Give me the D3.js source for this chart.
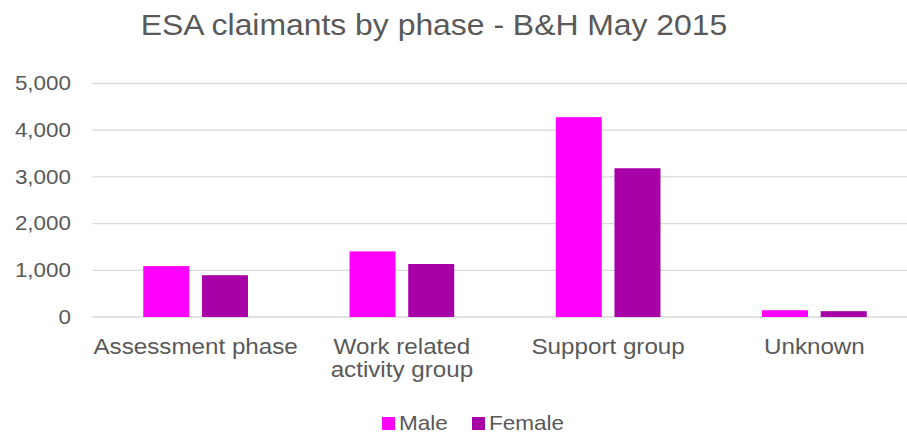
<!DOCTYPE html>
<html>
<head>
<meta charset="utf-8">
<script src="https://cdn.jsdelivr.net/npm/d3@7"></script>
<style>
  html, body { margin: 0; padding: 0; background: #fff; }
  svg { display: block; font-family: "Liberation Sans", Arial, sans-serif; }
</style>
</head>
<body>
<svg id="chart" width="907" height="434"></svg>
<script>
// ESA claimants in B&H, May 2015, split by phase and sex
const categories = [["Assessment phase"], ["Work related", "activity group"], ["Support group"], ["Unknown"]];
const seriesNames = ["Male", "Female"];
const maleValues = [1090, 1405, 4280, 145];
const femaleValues = [895, 1135, 3185, 125];
const yTicks = [0, 1000, 2000, 3000, 4000, 5000];
const colors = ["#FF00FF", "#A600A6"];

const svg = d3.select("#chart");
const textColor = "#595959";
const stretch = 1.1; // horizontal widening of all text

const plot = { left: 92.5, right: 917.5, top: 83.5, bottom: 317 };

const catKeys = categories.map(c => c.join(" "));
const x0 = d3.scaleBand().domain(catKeys).range([plot.left, plot.right]).padding(0);
const x1 = d3.scaleBand().domain(seriesNames).range([0, x0.bandwidth()])
  .paddingInner(0.2164).paddingOuter(0.865);
const y = d3.scaleLinear().domain([0, 5000]).range([plot.bottom, plot.top]);

// Gridlines
svg.append("g")
  .selectAll("line")
  .data(yTicks)
  .join("line")
  .attr("x1", plot.left)
  .attr("x2", plot.right)
  .attr("y1", d => y(d))
  .attr("y2", d => y(d))
  .attr("stroke", "#D9D9D9")
  .attr("stroke-width", 1.3);

// Y axis labels
const yAxis = d3.axisLeft(y).tickValues(yTicks).tickFormat(d3.format(",")).tickSize(0).tickPadding(0);
const yg = svg.append("g").attr("transform", "translate(71,0)").call(yAxis);
yg.select(".domain").remove();
yg.selectAll(".tick text")
  .attr("x", 0)
  .attr("transform", `scale(${stretch + 0.05},1)`)
  .attr("fill", textColor)
  .attr("font-size", 19.5)
  .attr("font-family", "Liberation Sans, Arial, sans-serif");

// Bars
const rows = catKeys.map((k, i) => ({ key: k, values: [maleValues[i], femaleValues[i]] }));
const groups = svg.append("g")
  .selectAll("g")
  .data(rows)
  .join("g")
  .attr("transform", d => `translate(${x0(d.key)},0)`);

groups.selectAll("rect")
  .data(d => d.values.map((v, j) => ({ name: seriesNames[j], value: v, color: colors[j] })))
  .join("rect")
  .attr("x", d => x1(d.name))
  .attr("width", x1.bandwidth())
  .attr("y", d => y(d.value))
  .attr("height", d => y(0) - y(d.value))
  .attr("fill", d => d.color);

// Category labels
const catLabels = svg.append("g")
  .selectAll("text")
  .data(categories)
  .join("text")
  .attr("transform", (d, i) => `translate(${x0(catKeys[i]) + x0.bandwidth() / 2},353.5) scale(${stretch},1)`)
  .attr("text-anchor", "middle")
  .attr("fill", textColor)
  .attr("font-size", 22);
catLabels.selectAll("tspan")
  .data(d => d)
  .join("tspan")
  .attr("x", 0)
  .attr("dy", (d, i) => i === 0 ? 0 : 23.5)
  .text(d => d);

// Title
svg.append("text")
  .attr("transform", `translate(434,35) scale(${stretch},1)`)
  .attr("text-anchor", "middle")
  .attr("fill", textColor)
  .attr("font-size", 29)
  .text("ESA claimants by phase - B&H May 2015");

// Legend
const legendItems = [{ name: "Male", x: 382 }, { name: "Female", x: 472 }];
const legend = svg.append("g")
  .selectAll("g")
  .data(legendItems)
  .join("g")
  .attr("transform", d => `translate(${d.x},417)`);
legend.append("rect")
  .attr("width", 13)
  .attr("height", 13)
  .attr("fill", (d, i) => colors[i]);
legend.append("text")
  .attr("transform", `translate(17,12.8) scale(${stretch},1)`)
  .attr("fill", textColor)
  .attr("font-size", 20.5)
  .text(d => d.name);
</script>
</body>
</html>
